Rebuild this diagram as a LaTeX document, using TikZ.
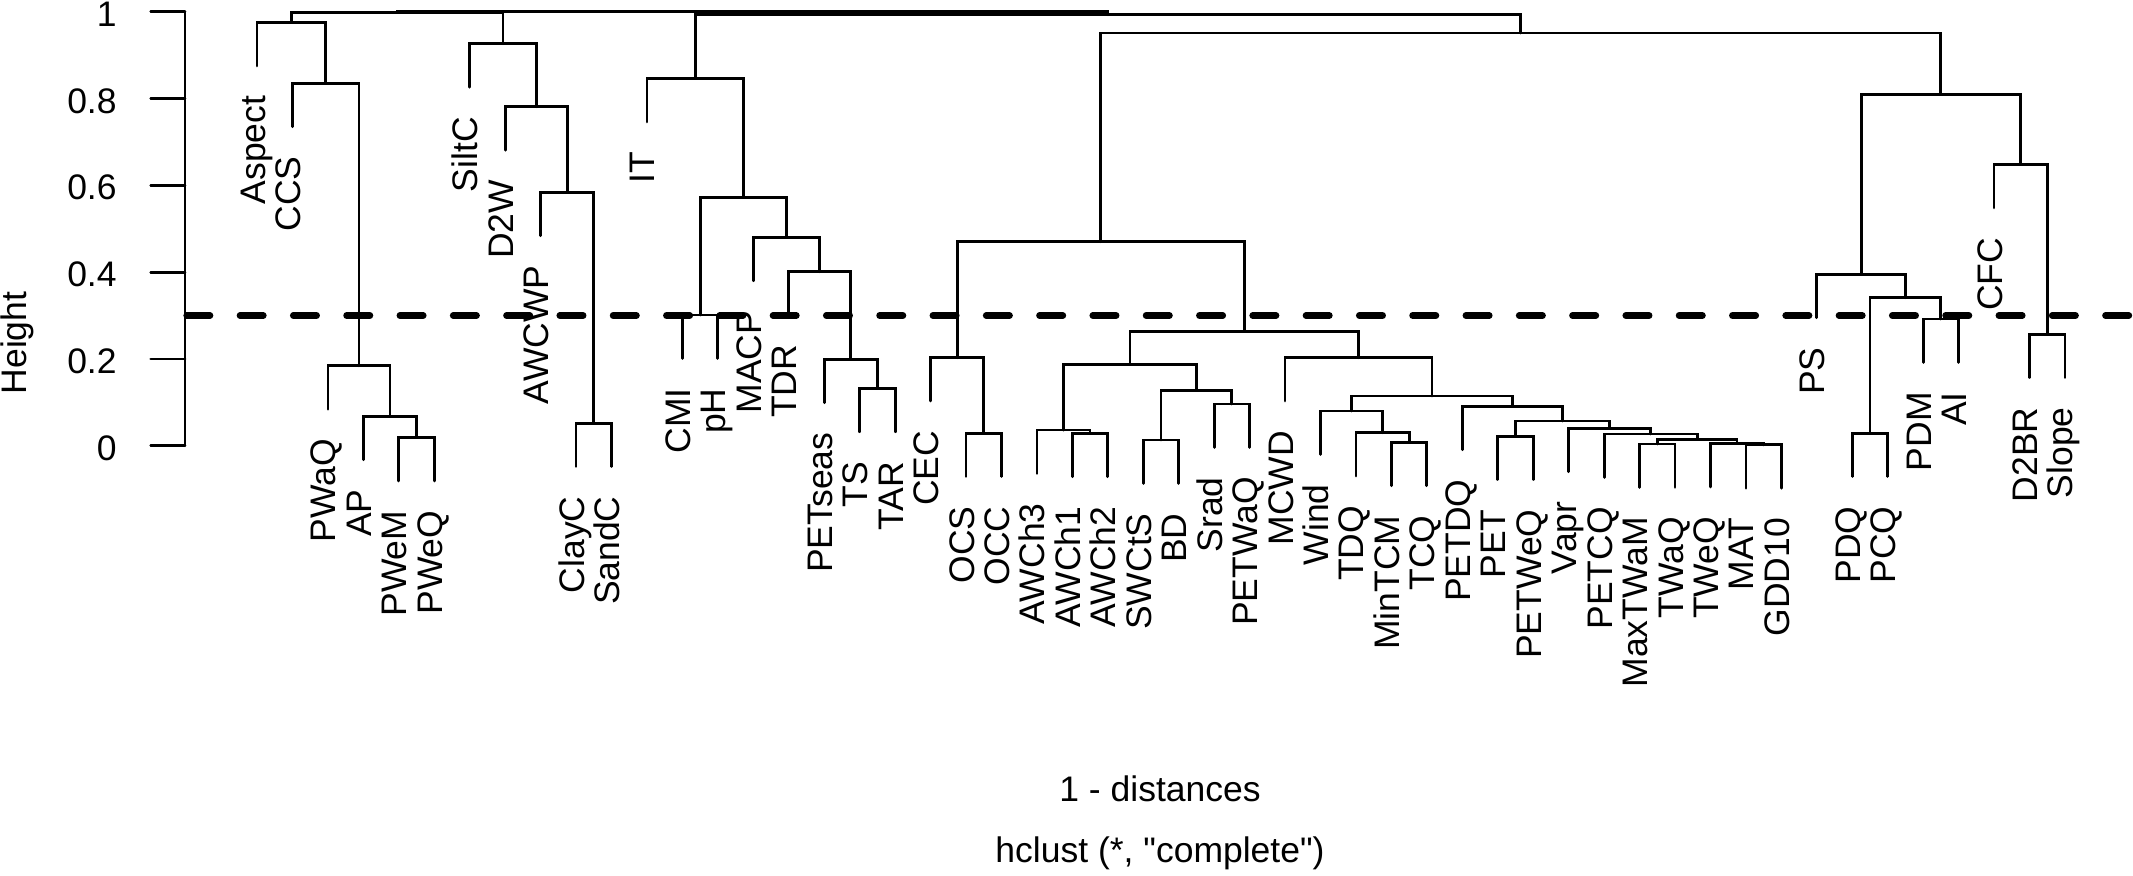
\documentclass[tikz,border=0pt]{standalone}
\usepackage{fontspec}
\setmainfont{Liberation Sans}
\newfontfamily\plainfont{Liberation Sans}[Ligatures=TeXOff]
\usetikzlibrary{calc}
% leaf: name, index, height of parent merge, label
\newcommand\lf[4]{%
  \coordinate (#1) at ({257+35.45*(#2-1)},{445.7-434*(#3-0.1)});
  \node[lab] (#1t) at ({265+35.45*(#2-1)},{475.2-434*(#3-0.1)}) {#4};}
% merge: name, child a, child b, height
\newcommand\mg[4]{%
  \path let \p1=(#2), \p2=(#3) in ({(\x1+\x2)/2},{-0.5pt*(445.7-434*(#4))}) coordinate (#1);
  \draw[tree] (#2) -- (#2 |- #1) -- (#3 |- #1) -- (#3);}
\begin{document}
\begin{tikzpicture}[x=0.5pt,y=-0.5pt,
  tree/.style={line width=1.4pt,line cap=round,line join=miter},
  lab/.style={rotate=90,anchor=base east,inner sep=0pt,font=\fontsize{17.75}{21}\selectfont},
  ticklab/.style={anchor=base east,inner sep=0pt,font=\fontsize{17.75}{21}\selectfont},
  title/.style={anchor=base,inner sep=0pt,font=\fontsize{17.75}{21}\selectfont},
  cut/.style={line width=3.35pt,line cap=round,dash pattern=on 11.65pt off 15pt}]
\fill[white] (0,0) rectangle (2133,875);
\useasboundingbox (0,0) rectangle (2133,875);
% axis
\coordinate (ax0) at (185,445.7);
\coordinate (ax1) at (185,11.7);
\draw[tree] (ax0) -- (ax1);
\foreach \h/\t [count=\i] in {0/0,0.2/0.2,0.4/0.4,0.6/0.6,0.8/0.8,1/1}{
  \draw[tree] (150.7,{445.7-434*\h}) -- (185,{445.7-434*\h});
  \node[ticklab] (tk\i) at (117,{460.2-434*\h}) {\t};
}
\node[rotate=90,anchor=base,inner sep=0pt,font=\fontsize{17.75}{21}\selectfont] (ylab) at (26,343) {Height};
\node[title] (xlab) at (1160,801) {1 - distances};
\node[title] (sub) at (1160,862.5) {\plainfont hclust (*, "complete")};
% Cluster A
\lf{l1}{1}{0.975}{Aspect}
\lf{l2}{2}{0.835}{CCS}
\lf{l3}{3}{0.184}{PWaQ}
\lf{l4}{4}{0.068}{AP}
\lf{l5}{5}{0.019}{PWeM}
\lf{l6}{6}{0.019}{PWeQ}
\mg{a56}{l5}{l6}{0.019}
\mg{a46}{l4}{a56}{0.068}
\mg{a36}{l3}{a46}{0.184}
\mg{a26}{l2}{a36}{0.835}
\mg{a16}{l1}{a26}{0.975}
% Cluster B
\lf{l7}{7}{0.926}{SiltC}
\lf{l8}{8}{0.781}{D2W}
\lf{l9}{9}{0.584}{AWCWP}
\lf{l10}{10}{0.052}{ClayC}
\lf{l11}{11}{0.052}{SandC}
\mg{b1011}{l10}{l11}{0.052}
\mg{b911}{l9}{b1011}{0.584}
\mg{b811}{l8}{b911}{0.781}
\mg{b711}{l7}{b811}{0.926}
\mg{m1}{a16}{b711}{0.999}
% IT cluster
\lf{l12}{12}{0.846}{IT}
\lf{l13}{13}{0.301}{CMI}
\lf{l14}{14}{0.301}{pH}
\lf{l15}{15}{0.480}{MACP}
\lf{l16}{16}{0.401}{TDR}
\lf{l17}{17}{0.199}{PETseas}
\lf{l18}{18}{0.132}{TS}
\lf{l19}{19}{0.132}{TAR}
\mg{c1314}{l13}{l14}{0.301}
\mg{c1819}{l18}{l19}{0.132}
\mg{c1719}{l17}{c1819}{0.199}
\mg{c1619}{l16}{c1719}{0.401}
\mg{c1519}{l15}{c1619}{0.480}
\mg{c1319}{c1314}{c1519}{0.572}
\mg{c1219}{l12}{c1319}{0.846}
% Cluster C
\lf{l20}{20}{0.203}{CEC}
\lf{l21}{21}{0.029}{OCS}
\lf{l22}{22}{0.029}{OCC}
\mg{d2122}{l21}{l22}{0.029}
\mg{d2022}{l20}{d2122}{0.203}
\lf{l23}{23}{0.036}{AWCh3}
\lf{l24}{24}{0.0286}{AWCh1}
\lf{l25}{25}{0.0286}{AWCh2}
\mg{d2425}{l24}{l25}{0.0286}
\mg{d2325}{l23}{d2425}{0.036}
\lf{l26}{26}{0.013}{SWCtS}
\lf{l27}{27}{0.013}{BD}
\lf{l28}{28}{0.096}{Srad}
\lf{l29}{29}{0.096}{PETWaQ}
\mg{d2627}{l26}{l27}{0.013}
\mg{d2829}{l28}{l29}{0.096}
\mg{d2629}{d2627}{d2829}{0.128}
\mg{d2329}{d2325}{d2629}{0.1875}
\lf{l30}{30}{0.203}{MCWD}
\lf{l31}{31}{0.080}{Wind}
\lf{l32}{32}{0.030}{TDQ}
\lf{l33}{33}{0.008}{MinTCM}
\lf{l34}{34}{0.008}{TCQ}
\mg{d3334}{l33}{l34}{0.008}
\mg{d3234}{l32}{d3334}{0.030}
\mg{d3134}{l31}{d3234}{0.080}
\lf{l35}{35}{0.091}{PETDQ}
\lf{l36}{36}{0.022}{PET}
\lf{l37}{37}{0.022}{PETWeQ}
\lf{l38}{38}{0.040}{Vapr}
\lf{l39}{39}{0.027}{PETCQ}
\lf{l40}{40}{0.004}{MaxTWaM}
\lf{l41}{41}{0.004}{TWaQ}
\lf{l42}{42}{0.005}{TWeQ}
\lf{l43}{43}{0.002}{MAT}
\lf{l44}{44}{0.002}{GDD10}
\mg{d4041}{l40}{l41}{0.004}
\mg{d4344}{l43}{l44}{0.002}
\mg{d4244}{l42}{d4344}{0.005}
\mg{d4044}{d4041}{d4244}{0.015}
\mg{d3944}{l39}{d4044}{0.027}
\mg{d3844}{l38}{d3944}{0.040}
\mg{d3637}{l36}{l37}{0.022}
\mg{d3644}{d3637}{d3844}{0.057}
\mg{d3544}{l35}{d3644}{0.091}
\mg{d3144}{d3134}{d3544}{0.1145}
\mg{d3044}{l30}{d3144}{0.203}
\mg{d2344}{d2329}{d3044}{0.263}
\mg{d2044}{d2022}{d2344}{0.470}
% Cluster E
\lf{l45}{45}{0.395}{PS}
\lf{l46}{46}{0.029}{PDQ}
\lf{l47}{47}{0.029}{PCQ}
\lf{l48}{48}{0.292}{PDM}
\lf{l49}{49}{0.292}{AI}
\lf{l50}{50}{0.648}{CFC}
\lf{l51}{51}{0.257}{D2BR}
\lf{l52}{52}{0.257}{Slope}
\mg{e4647}{l46}{l47}{0.029}
\mg{e4849}{l48}{l49}{0.292}
\mg{e4649}{e4647}{e4849}{0.341}
\mg{e4549}{l45}{e4649}{0.395}
\mg{e5152}{l51}{l52}{0.257}
\mg{e5052}{l50}{e5152}{0.648}
\mg{e4552}{e4549}{e5052}{0.810}
\mg{f}{d2044}{e4552}{0.951}
\mg{m2}{c1219}{f}{0.993}
\mg{root}{m1}{m2}{1.0}
% cut line
\coordinate (cut0) at (186.7,315.5);
\coordinate (cut1) at (2133,315.5);
\draw[cut] (cut0) -- (cut1);
\end{tikzpicture}
\end{document}
